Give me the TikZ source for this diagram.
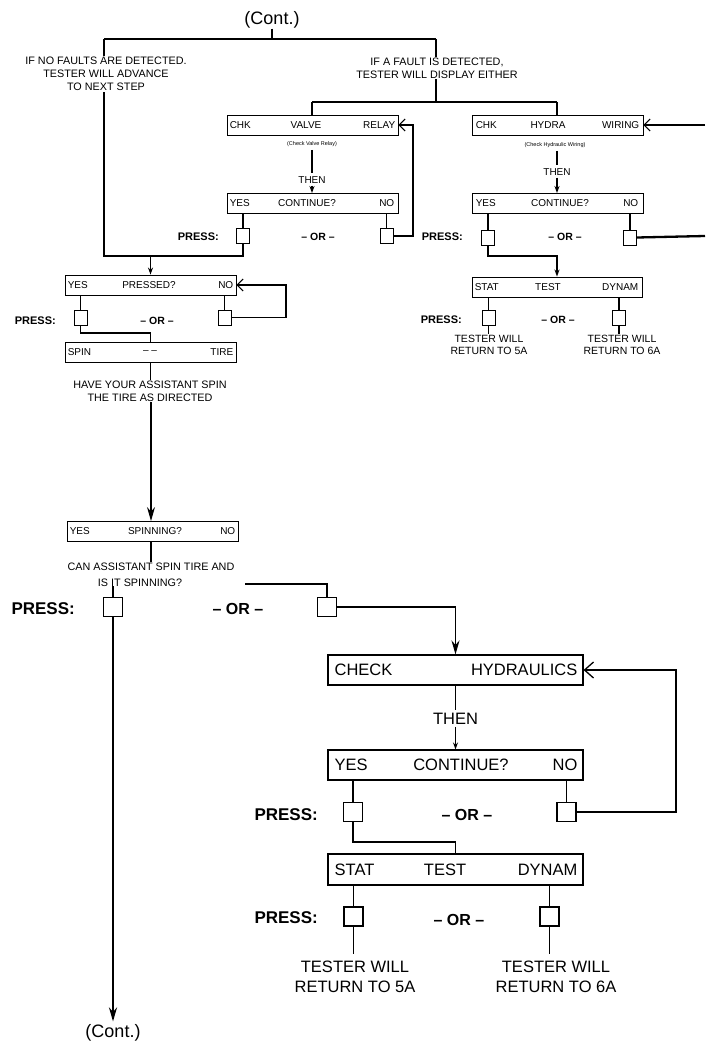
\documentclass[tikz,border=0pt]{standalone}
\usepackage{fontspec}
\setmainfont{Liberation Sans}
\usetikzlibrary{arrows.meta,calc}

\newcommand\ftiny{\fontsize{5.5}{6}\selectfont}
\newcommand\fsm{\fontsize{10}{12}\selectfont}
\newcommand\fnote{\fontsize{10.8}{12.8}\selectfont}
\newcommand\fmd{\fontsize{16.5}{20}\selectfont}
\newcommand\fxl{\fontsize{18}{20}\selectfont}

\tikzset{
  box/.style={draw, line width=0.9pt, inner sep=0pt, minimum height=20pt},
  sbox/.style={box, minimum width=171pt},
  bbox/.style={box, line width=1.1pt, minimum width=255pt, minimum height=30pt},
  sq/.style={draw, line width=0.9pt, inner sep=0pt, minimum width=13pt, minimum height=15pt},
  bsq/.style={draw, line width=1.1pt, inner sep=0pt, minimum size=19pt},
  lbl/.style={inner sep=0pt, font=\fsm},
  blbl/.style={inner sep=0pt, font=\fmd},
  tinylbl/.style={inner sep=0pt, font=\ftiny},
  note/.style={inner sep=1pt, font=\fnote, align=center, fill=white},
  bignote/.style={inner sep=1pt, font=\fmd, align=center},
  press/.style={inner sep=0pt, font=\bfseries\fontsize{11}{12}\selectfont},
  bpress/.style={inner sep=0pt, font=\bfseries\fontsize{17}{20}\selectfont},
  ortext/.style={inner sep=0pt, font=\bfseries\fontsize{10.5}{12}\selectfont},
  bortext/.style={inner sep=0pt, font=\bfseries\fontsize{16}{20}\selectfont},
  wire/.style={line width=1.1pt},
  mwire/.style={line width=1.6pt},
  twire/.style={line width=2.3pt},
  dn/.style={-{Stealth[length=7pt,width=5pt]}},
  bigdn/.style={-{Stealth[length=14pt,width=8pt]}},
  op/.style={-{Straight Barb[length=6pt,width=12pt,line width=1pt]}},
  bop/.style={-{Straight Barb[length=9pt,width=16pt,line width=1.3pt]}},
}

\begin{document}
\begin{tikzpicture}[x=1pt,y=-1pt]
\useasboundingbox (0,0) rectangle (705,1052);

% ---------- top ----------
\node[font=\fxl, inner sep=0pt] (cont1) at (272,20) {(Cont.)};
\coordinate (tl) at (104,39);
\coordinate (tr) at (436,39);
\draw[wire] (cont1.south) -- (cont1.south |- tl);
\draw[wire] (tl) -- (tr);
\draw[wire] (tr) -- (436,102);
\draw[wire] (312,102) -- (557,102);

\node[note] (fault) at (437,68) {IF A FAULT IS DETECTED,\\TESTER WILL DISPLAY EITHER};

% valve relay branch
\node[sbox] (valve) at (312.5,125) {};
\node[lbl, anchor=west] (valveA) at ([xshift=3pt]valve.west) {CHK};
\node[lbl] (valveB) at (306,125) {VALVE};
\node[lbl, anchor=east] (valveC) at ([xshift=-3pt]valve.east) {RELAY};
\draw[wire] (312,102) -- (valve.north -| 312,0);
\node[tinylbl] (valveN) at (312,144) {(Check Valve Relay)};
\node[lbl] (then1) at (312,180) {THEN};
\draw[wire] ([yshift=-3pt]valveN.south) -- ([yshift=3pt]then1.north);
\node[sbox] (cA) at (312.5,203.5) {};
\draw[wire,dn] ([yshift=-2pt]then1.south) -- (cA.north -| then1);
\node[lbl, anchor=west] (cAa) at ([xshift=3pt]cA.west) {YES};
\node[lbl] (cAb) at (307,203.5) {CONTINUE?};
\node[lbl, anchor=east] (cAc) at ([xshift=-4pt]cA.east) {NO};
\node[sq] (cAy) at (243,236) {};
\node[sq] (cAn) at (386.5,236) {};
\draw[wire] (cA.south -| cAy) -- (cAy.north);
\draw[wire] (cA.south -| cAn) -- (cAn.north);
\draw[wire,op] (cAn.east) -| (413,125) -- (valve.east);
\node[press, anchor=east] (pr1) at (219,237) {PRESS:};
\node[ortext] (or1) at (318,237) {\textendash{} OR \textendash};

% hydra wiring branch
\node[sbox] (hydra) at (557.5,125) {};
\draw[wire] (557,102) -- (hydra.north -| 557,0);
\node[lbl, anchor=west] (hydraA) at ([xshift=4pt]hydra.west) {CHK};
\node[lbl] (hydraB) at (548,125) {HYDRA};
\node[lbl, anchor=east] (hydraC) at ([xshift=-4pt]hydra.east) {WIRING};
\coordinate (rin) at (705,125);
\draw[wire,op] (rin) -- (hydra.east);
\node[tinylbl] (hydraN) at (555,145) {(Check Hydraulic Wiring)};
\node[lbl] (then2) at (557,172) {THEN};
\draw[wire] ([yshift=-3pt]hydraN.south -| then2) -- ([yshift=3pt]then2.north);
\node[sbox] (cB) at (557.5,203.5) {};
\draw[wire,dn] ([yshift=-2pt]then2.south) -- (cB.north -| then2);
\node[lbl, anchor=west] (cBa) at ([xshift=4pt]cB.west) {YES};
\node[lbl] (cBb) at (560,203.5) {CONTINUE?};
\node[lbl, anchor=east] (cBc) at ([xshift=-5pt]cB.east) {NO};
\node[sq] (cBy) at (488,237.5) {};
\node[sq] (cBn) at (630,237.5) {};
\draw[wire] (cB.south -| cBy) -- (cBy.north);
\draw[wire] (cB.south -| cBn) -- (cBn.north);
\coordinate (rout) at (705,236);
\draw[twire] (cBn.east) -- (rout);
\node[press, anchor=east] (pr2) at (463,237) {PRESS:};
\node[ortext] (or2) at (565,237) {\textendash{} OR \textendash};

\node[sbox, minimum width=170pt] (statA) at (557,287) {};
\draw[wire,dn] (cBy.south) |- (statA.north |- 0,256) -- (statA.north);
\node[lbl, anchor=west] (statAa) at ([xshift=3pt]statA.west) {STAT};
\node[lbl] (statAb) at (548,287) {TEST};
\node[lbl, anchor=east] (statAc) at ([xshift=-4pt]statA.east) {DYNAM};
\node[sq] (sAy) at (488.5,317.5) {};
\node[sq] (sAd) at (619,317.5) {};
\draw[wire] (statA.south -| sAy) -- (sAy.north);
\draw[wire] (statA.south -| sAd) -- (sAd.north);
\node[press, anchor=east] (pr3) at (462,320) {PRESS:};
\node[ortext] (or3) at (558,320) {\textendash{} OR \textendash};
\node[note, fill=none, font=\fontsize{10.5}{12.5}\selectfont] (r5a) at (489,345) {TESTER WILL\\RETURN TO 5A};
\node[note, fill=none, font=\fontsize{10.5}{12.5}\selectfont] (r6a) at (622,345) {TESTER WILL\\RETURN TO 6A};
\draw[wire] (sAy.south) -- (r5a.north -| sAy);
\draw[wire] (sAd.south) -- (r6a.north -| sAd);

% ---------- left column ----------
\node[sbox] (pressed) at (150.5,285) {};
\draw[wire] (tl) -- (104,256) -| (cAy.south);
\draw[wire,dn] (pressed.north |- 0,256) -- (pressed.north);
\node[note] (nofault) at (106,74) {IF NO FAULTS ARE DETECTED.\\TESTER WILL ADVANCE\\TO NEXT STEP};
\node[lbl, anchor=west] (prA) at ([xshift=3pt]pressed.west) {YES};
\node[lbl] (prB) at (149,285) {PRESSED?};
\node[lbl, anchor=east] (prC) at ([xshift=-3pt]pressed.east) {NO};
\node[sq] (pry) at (80.5,317.5) {};
\node[sq] (prn) at (224.5,317.5) {};
\draw[wire] (pressed.south -| pry) -- (pry.north);
\draw[wire] (pressed.south -| prn) -- (prn.north);
\draw[mwire,op] (prn.east) -| (286,285) -- (pressed.east);
\node[press, anchor=east] (pr4) at (56,321) {PRESS:};
\node[ortext] (or4) at (157,321) {\textendash{} OR \textendash};

\node[sbox] (spin) at (150.5,352) {};
\draw[wire] (pry.south) |- (spin.north |- 0,333) -- (spin.north);
\node[lbl, anchor=west] (spA) at ([xshift=3pt]spin.west) {SPIN};
\node[lbl] (spB) at (150,352) {-- --};
\node[lbl, anchor=east] (spC) at ([xshift=-3pt]spin.east) {TIRE};
\node[note] (assist) at (150,391) {HAVE YOUR ASSISTANT SPIN\\THE TIRE AS DIRECTED};
\draw[wire] (spin.south) -- (assist.north -| spin);

\node[sbox] (spinning) at (152.5,531.5) {};
\draw[wire,bigdn] (assist.south -| 151,0) -- (spinning.north -| 151,0);
\node[lbl, anchor=west] (snA) at ([xshift=3pt]spinning.west) {YES};
\node[lbl] (snB) at (155,531.5) {SPINNING?};
\node[lbl, anchor=east] (snC) at ([xshift=-3pt]spinning.east) {NO};
\node[note] (canq) at (151,567) {CAN ASSISTANT SPIN TIRE AND};
\node[note, fill=none] (canq2) at (140,583) {IS IT SPINNING?};
\draw[wire] (spinning.south -| 151,0) -- (canq.north -| 151,0);

% big left trunk
\node[bsq] (bsqL) at (113,607) {};
\coordinate (lstart) at (113,586);
\draw[twire] (lstart) -- (bsqL.north);
\node[font=\fxl, inner sep=0pt] (cont2) at (113,1033) {(Cont.)};
\draw[twire,bigdn] (bsqL.south) -- ([yshift=3pt]cont2.north);
\node[bpress, anchor=east] (pr5) at (75,609) {PRESS:};
\node[bortext] (or5) at (238,609) {\textendash{} OR \textendash};

% right branch to hydraulics
\node[bsq] (bsqR) at (327,607) {};
\coordinate (rs) at (245,584);
\draw[twire] (rs) -| (bsqR.north);

\node[bbox] (check) at (455.5,670) {};
\draw[mwire,bigdn] (bsqR.east) -| (check.north);
\node[blbl, anchor=west] (chA) at ([xshift=7pt]check.west) {CHECK};
\node[blbl, anchor=east] (chB) at ([xshift=-6pt]check.east) {HYDRAULICS};
\node[blbl] (then3) at (455.5,719) {THEN};
\draw[mwire] (check.south) -- ([yshift=3pt]then3.north);
\node[bbox] (cC) at (455.5,765) {};
\draw[mwire,dn] ([yshift=-2pt]then3.south) -- (cC.north);
\node[blbl, anchor=west] (cCa) at ([xshift=7pt]cC.west) {YES};
\node[blbl] (cCb) at (461,765) {CONTINUE?};
\node[blbl, anchor=east] (cCc) at ([xshift=-6pt]cC.east) {NO};
\node[bsq] (cCy) at (353,812) {};
\node[bsq] (cCn) at (566.5,812) {};
\draw[mwire] (cC.south -| cCy) -- (cCy.north);
\draw[wire] (cC.south -| cCn) -- (cCn.north);
\draw[mwire,bop] (cCn.east) -| (676,670) -- (check.east);
\node[bpress, anchor=east] (pr6) at (318,815) {PRESS:};
\node[bortext] (or6) at (467,815) {\textendash{} OR \textendash};

\node[bbox, minimum height=31pt] (statB) at (455.5,869.5) {};
\draw[mwire] (cCy.south) |- (statB.north |- 0,842) -- (statB.north);
\node[blbl, anchor=west] (stA) at ([xshift=7pt]statB.west) {STAT};
\node[blbl] (stB) at (445,869.5) {TEST};
\node[blbl, anchor=east] (stC) at ([xshift=-6pt]statB.east) {DYNAM};
\node[bsq] (sBy) at (353.5,916.5) {};
\node[bsq] (sBd) at (549.5,916.5) {};
\draw[wire] (statB.south -| sBy) -- (sBy.north);
\draw[wire] (statB.south -| sBd) -- (sBd.north);
\node[bpress, anchor=east] (pr7) at (318,918) {PRESS:};
\node[bortext] (or7) at (459,920) {\textendash{} OR \textendash};
\node[bignote] (r5b) at (355,977) {TESTER WILL\\RETURN TO 5A};
\node[bignote] (r6b) at (556,977) {TESTER WILL\\RETURN TO 6A};
\draw[wire] (sBy.south) -- ([yshift=6pt]r5b.north -| sBy);
\draw[wire] (sBd.south) -- ([yshift=6pt]r6b.north -| sBd);
\end{tikzpicture}
\end{document}
